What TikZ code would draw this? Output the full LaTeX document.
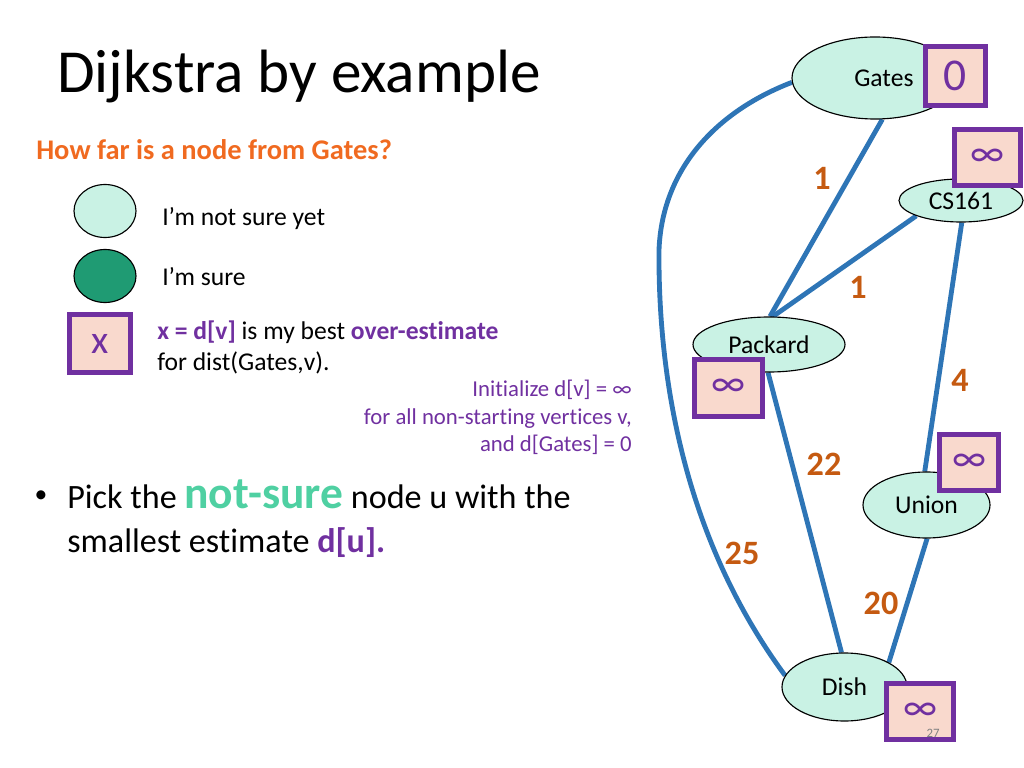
\documentclass[tikz,border=0pt]{standalone}
\usepackage{fontspec}
\setmainfont{Carlito}[Ligatures={NoCommon}]
\usetikzlibrary{shapes.geometric,backgrounds}
\definecolor{edgeblue}{HTML}{2E75B6}
\definecolor{boxpurple}{HTML}{7030A0}
\definecolor{boxfill}{HTML}{F9D9CD}
\definecolor{mint}{HTML}{C9F2E4}
\definecolor{darkmint}{HTML}{1F9B73}
\definecolor{notsure}{HTML}{4FD0A2}
\definecolor{headorange}{HTML}{F06A20}
\definecolor{weight}{HTML}{C55A11}
\tikzset{
  vert/.style={ellipse, draw=black, line width=0.8pt, fill=mint, inner sep=0pt, font=\fontsize{18}{21}\selectfont},
  est/.style={rectangle, draw=boxpurple, line width=3.5pt, fill=boxfill, inner sep=0pt, text=boxpurple, font=\fontsize{28}{32}\selectfont},
  gedge/.style={draw=edgeblue, line width=3.4pt},
  wlab/.style={text=weight, font=\bfseries\fontsize{24}{28}\selectfont, inner sep=0pt},
  txt/.style={inner sep=0pt, anchor=base west},
  small/.style={font=\fontsize{18}{21}\selectfont},
  init/.style={inner sep=0pt, anchor=base east, text=boxpurple, font=\fontsize{16}{19}\selectfont},
}
\begin{document}
\begin{tikzpicture}[x=0.703125pt,y=-0.703125pt]
\useasboundingbox (0,0) rectangle (1024,768);

% title and text
\node[txt, font=\fontsize{43}{49}\selectfont] (title) at (57,93) {Dijkstra by example};
\node[txt, text=headorange, font=\bfseries\fontsize{20}{24}\selectfont] (q) at (36,160) {How far is a node from Gates?};

\node[ellipse, draw=black, line width=0.8pt, fill=mint, minimum width={62*0.703125pt}, minimum height={53*0.703125pt}] (l1) at (105,211) {};
\node[ellipse, draw=black, line width=0.8pt, fill=darkmint, minimum width={62*0.703125pt}, minimum height={53*0.703125pt}] (l2) at (105,276) {};
\node[est, minimum width={61*0.703125pt}, minimum height={58*0.703125pt}] (lx) at (100,343.5) {x};

\node[txt, small] (t1) at (162,226) {I’m not sure yet};
\node[txt, small] (t2) at (162,285) {I’m sure};
\node[txt, small] (t3) at (157,339) {\textcolor{boxpurple}{\bfseries x = d[v]} is my best \textcolor{boxpurple}{\bfseries over-estimate}};
\node[txt, small] (t4) at (157,370) {for dist(Gates,v).};

\node[init] (i1) at (632,396) {Initialize d[v] = ∞};
\node[init] (i2) at (632,424) {for all non-starting vertices v,};
\node[init] (i3) at (632,451) {and d[Gates] = 0};

\node[inner sep=0pt, font=\fontsize{18}{21}\selectfont] (b0) at (41,497) {•};
\node[txt, font=\fontsize{24}{29}\selectfont] (b1) at (67,508) {Pick the \textcolor{notsure}{\bfseries\fontsize{32}{36}\selectfont not-sure} node u with the};
\node[txt, font=\fontsize{24}{29}\selectfont] (b2) at (67,552) {smallest estimate \textcolor{boxpurple}{\bfseries d[u].}};

% graph vertices
\node[vert, minimum width={166*0.703125pt}, minimum height={82*0.703125pt}] (gates) at (875,78) {\hspace*{12.5pt}Gates};
\node[vert, minimum width={124*0.703125pt}, minimum height={43*0.703125pt}] (cs) at (961,200.5) {CS161};
\node[vert, minimum width={152*0.703125pt}, minimum height={55*0.703125pt}] (packard) at (769,344.5) {Packard};
\node[vert, minimum width={127*0.703125pt}, minimum height={66*0.703125pt}] (union) at (926.5,505) {Union};
\node[vert, minimum width={125*0.703125pt}, minimum height={68*0.703125pt}] (dish) at (844.5,687) {Dish};
\coordinate (bend) at (659,250);

% edges
\begin{scope}[on background layer]
\draw[gedge] (gates.-80) -- (packard.88);
\draw[gedge] (cs.199) -- (packard.82);
\draw[gedge] (cs.-88) -- (union.93);
\draw[gedge] (union.-89) -- (dish.29);
\draw[gedge] (packard.-92) -- (dish.95);
\draw[gedge, line join=round] (gates.183) .. controls (715,112) and (662,170) .. (bend)
   .. controls (658,380) and (685,540) .. (dish.169);
\end{scope}

% weights
\node[wlab] (w1) at (822,178) {1};
\node[wlab] (w2) at (858,287) {1};
\node[wlab] (w3) at (960,380) {4};
\node[wlab] (w4) at (824,464) {22};
\node[wlab] (w5) at (742,553) {25};
\node[wlab] (w6) at (881,603) {20};

% estimate boxes
\node[est, minimum width={60*0.703125pt}, minimum height={59*0.703125pt}, font=\fontsize{32}{36}\selectfont] (eg) at (955.5,76) {0};
\node[est, minimum width={66*0.703125pt}, minimum height={56*0.703125pt}] (ec) at (987.5,157.5) {∞};
\node[est, minimum width={68*0.703125pt}, minimum height={57*0.703125pt}] (ep) at (728.5,388) {∞};
\node[est, minimum width={59*0.703125pt}, minimum height={56*0.703125pt}] (eu) at (969,462.5) {∞};
\node[est, minimum width={67*0.703125pt}, minimum height={56*0.703125pt}] (ed) at (920,711.5) {∞};

\node[inner sep=0pt, text=gray, font=\fontsize{9}{11}\selectfont] (pg) at (933,733) {27};
\end{tikzpicture}
\end{document}
